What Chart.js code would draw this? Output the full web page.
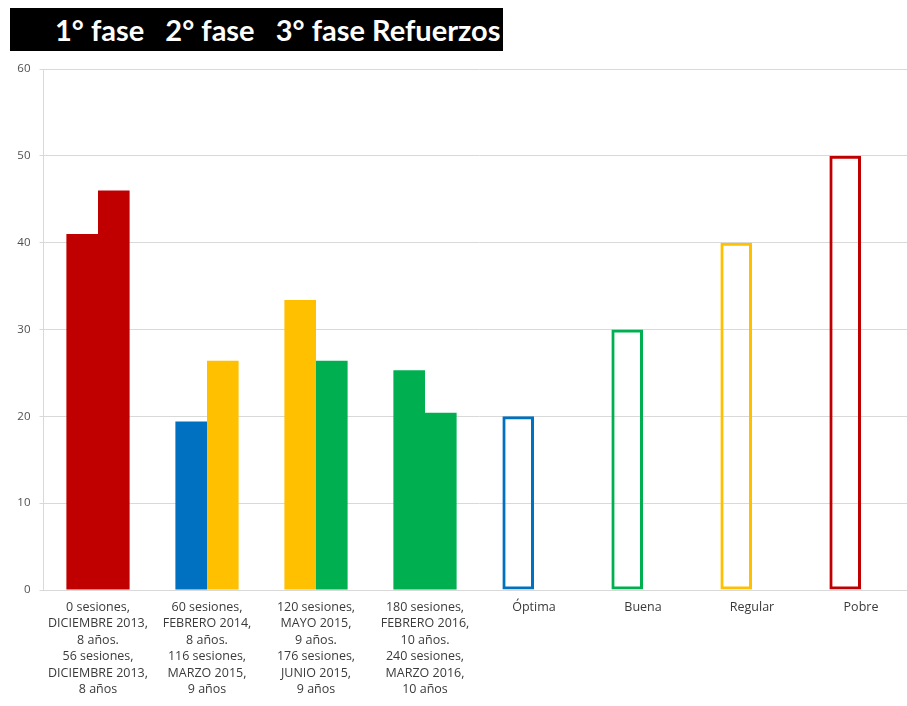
<!DOCTYPE html>
<html>
<head>
<meta charset="utf-8">
<script src="https://cdn.jsdelivr.net/npm/chart.js@4.4.1/dist/chart.umd.min.js"></script>
<style>
	body { margin: 0; background: #fff; overflow: hidden; width: 907px; height: 706px; position: relative; }
	#titulo {
		position: absolute; left: 10px; top: 8px; width: 493px; height: 43px;
		background: #000; color: #fff; box-sizing: border-box;
		font-family: Lato, sans-serif; font-weight: bold; font-size: 29px;
		line-height: 44px; padding-left: 45px; white-space: pre; z-index: 2;
	}
	#grafico { position: absolute; left: 0; top: 0; }
</style>
</head>
<body>
<div id="titulo">1° fase   2° fase   3° fase Refuerzos</div>
<canvas id="grafico" width="920" height="706"></canvas>
<script>
	// Categories (multi-line labels)
	var categorias = [
		['0 sesiones,', 'DICIEMBRE 2013,', '8 años.', '56 sesiones,', 'DICIEMBRE 2013,', '8 años'],
		['60 sesiones,', 'FEBRERO 2014,', '8 años.', '116 sesiones,', 'MARZO 2015,', '9 años'],
		['120 sesiones,', 'MAYO 2015,', '9 años.', '176 sesiones,', 'JUNIO 2015,', '9 años'],
		['180 sesiones,', 'FEBRERO 2016,', '10 años.', '240 sesiones,', 'MARZO 2016,', '10 años'],
		'Óptima', 'Buena', 'Regular', 'Pobre'
	];
	// First and second measurement of each phase; reference bars only in first
	var medicion1 = [41, 19.4, 33.4, 25.3, 20, 30, 40, 50];
	var medicion2 = [46, 26.4, 26.4, 20.4, null, null, null, null];
	var yTicks = [0, 10, 20, 30, 40, 50, 60];

	var ROJO = '#C00000', AZUL = '#0070C0', AMARILLO = '#FFC000', VERDE = '#00B050';

	var fondo1 = [ROJO, AZUL, AMARILLO, VERDE, 'rgba(0,0,0,0)', 'rgba(0,0,0,0)', 'rgba(0,0,0,0)', 'rgba(0,0,0,0)'];
	var borde1 = [ROJO, AZUL, AMARILLO, VERDE, AZUL, VERDE, AMARILLO, ROJO];
	var ancho1 = [0, 0, 0, 0, 3, 3, 3, 3];
	var fondo2 = [ROJO, AMARILLO, VERDE, VERDE, ROJO, ROJO, ROJO, ROJO];

	var ctx = document.getElementById('grafico');
	new Chart(ctx, {
		type: 'bar',
		data: {
			labels: categorias,
			datasets: [
				{
					data: medicion1,
					backgroundColor: fondo1,
					borderColor: borde1,
					borderWidth: ancho1,
					borderSkipped: false
				},
				{
					data: medicion2,
					backgroundColor: fondo2,
					borderWidth: 0
				}
			]
		},
		options: {
			responsive: false,
			animation: false,
			devicePixelRatio: 1,
			categoryPercentage: 0.58,
			barPercentage: 1,
			layout: { padding: { left: 0, top: 69, right: 4.5, bottom: 0 } },
			plugins: {
				legend: { display: false },
				tooltip: { enabled: false }
			},
			scales: {
				x: {
					grid: { display: false },
					border: { display: true, color: '#d9d9d9' },
					ticks: {
						color: '#3a3a3a',
						font: { family: 'Open Sans', size: 12.5, lineHeight: '16.5px' },
						padding: 1,
						maxRotation: 0,
						autoSkip: false
					},
					afterFit: function (scale) { scale.height = 116; }
				},
				y: {
					min: 0,
					max: 60,
					afterBuildTicks: function (scale) {
						scale.ticks = yTicks.map(function (v) { return { value: v }; });
					},
					grid: { color: '#d9d9d9', tickLength: 4, drawTicks: true },
					border: { display: true, color: '#d9d9d9' },
					ticks: {
						color: '#505050',
						font: { family: 'Open Sans', size: 11.5 },
						padding: 9
					},
					afterFit: function (scale) { scale.width = 43.5; }
				}
			}
		}
	});
</script>
</body>
</html>
